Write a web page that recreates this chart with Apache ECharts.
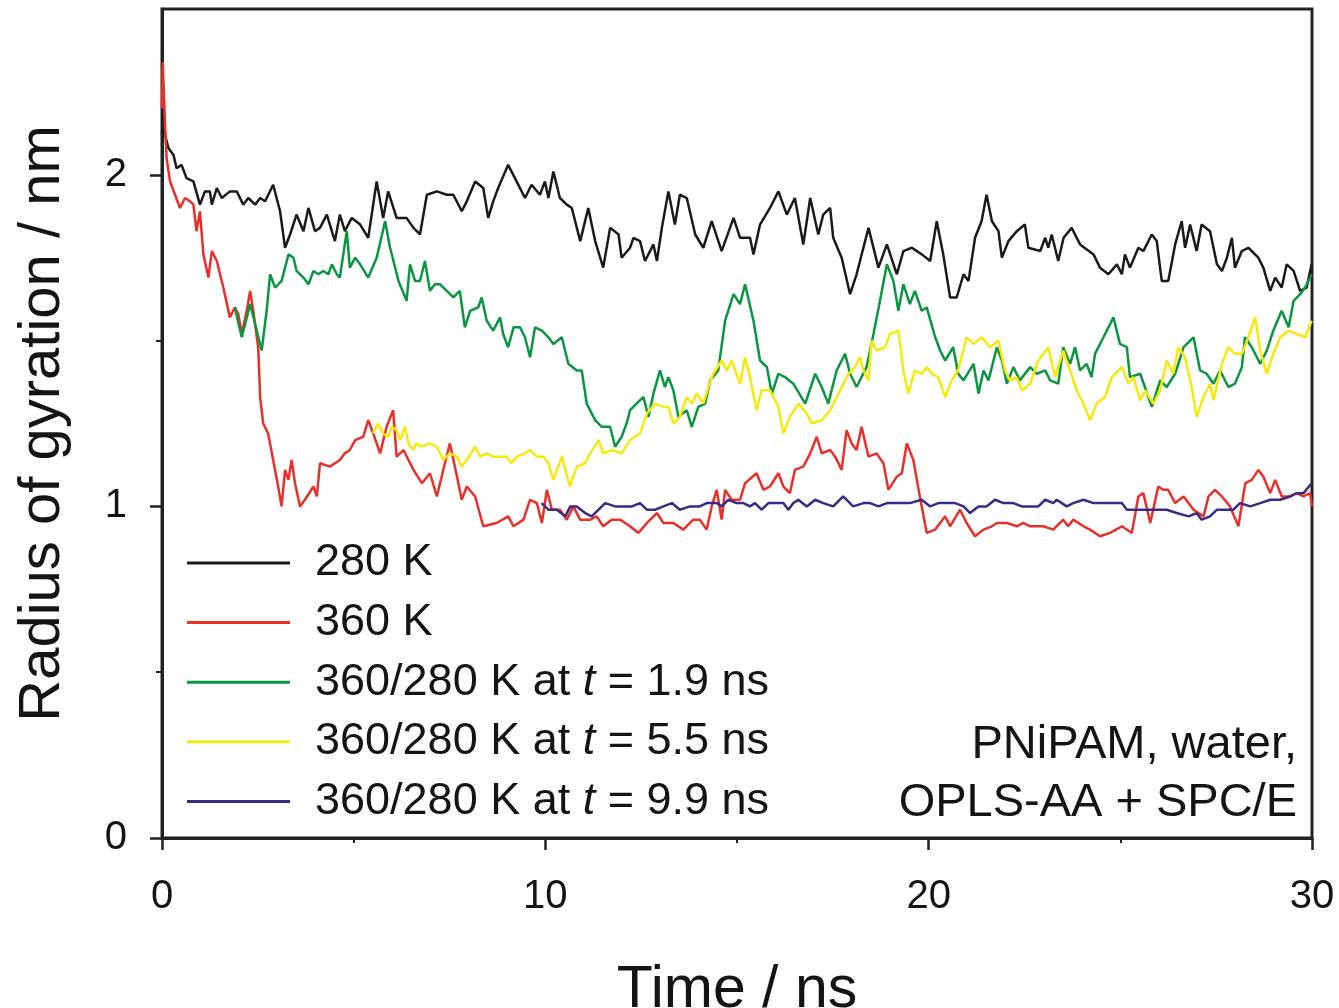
<!DOCTYPE html>
<html>
<head>
<meta charset="utf-8">
<script src="https://cdn.jsdelivr.net/npm/echarts@6/dist/echarts.min.js"></script>
<style>
  html, body { margin: 0; padding: 0; background: #fff; }
  #chartmain { width: 1339px; height: 1008px; }
</style>
</head>
<body>
<div id="chartmain"></div>
<script>
// tick positions
const xTicks = [0, 10, 20, 30];
const xMinorTicks = [5, 15, 25];
const yTicks = [0, 1, 2];
const yMinorTicks = [0.5, 1.5];

// legend names
const names = [
    '280 K',
    '360 K',
    '360/280 K at t = 1.9 ns',
    '360/280 K at t = 5.5 ns',
    '360/280 K at t = 9.9 ns'
];

// [time / ns, Rg / nm]
const rg280 = [
    [0, 2.12], [0.03, 2.22], [0.08, 2.12], [0.17, 2.08], [0.30, 2.06], [0.38, 2.02], [0.51, 2.03], [0.64, 1.99],
    [0.82, 1.98], [0.99, 1.91], [1.12, 1.95], [1.25, 1.95], [1.30, 1.91], [1.43, 1.96], [1.56, 1.93], [1.77, 1.95],
    [1.95, 1.95], [2.12, 1.91], [2.25, 1.93], [2.43, 1.91], [2.56, 1.93], [2.69, 1.92], [2.90, 1.97], [3.08, 1.89],
    [3.21, 1.78], [3.34, 1.82], [3.51, 1.88], [3.69, 1.83], [3.82, 1.90], [3.99, 1.83], [4.12, 1.84], [4.30, 1.88],
    [4.51, 1.80], [4.64, 1.88], [4.77, 1.83], [4.95, 1.87], [5.17, 1.85], [5.38, 1.81], [5.60, 1.98], [5.77, 1.87],
    [5.90, 1.95], [6.12, 1.87], [6.38, 1.87], [6.56, 1.84], [6.73, 1.82], [6.91, 1.94], [7.17, 1.95], [7.43, 1.94],
    [7.60, 1.94], [7.82, 1.89], [7.95, 1.92], [8.17, 1.98], [8.38, 1.96], [8.51, 1.87], [8.64, 1.92], [8.77, 1.96],
    [9.03, 2.03], [9.25, 1.98], [9.47, 1.93], [9.64, 1.97], [9.86, 1.94], [9.99, 1.98], [10.08, 1.93], [10.21, 2.01],
    [10.38, 1.93], [10.56, 1.91], [10.69, 1.90], [10.91, 1.80], [11.12, 1.90], [11.30, 1.80], [11.51, 1.72], [11.69, 1.84],
    [11.91, 1.82], [11.99, 1.75], [12.21, 1.78], [12.30, 1.81], [12.47, 1.80], [12.60, 1.74], [12.82, 1.79], [12.91, 1.74],
    [13.04, 1.84], [13.21, 1.95], [13.38, 1.85], [13.51, 1.94], [13.69, 1.93], [13.91, 1.82], [14.12, 1.78], [14.34, 1.86],
    [14.60, 1.77], [14.91, 1.87], [15.08, 1.81], [15.34, 1.81], [15.43, 1.76], [15.60, 1.85], [15.86, 1.90], [16.08, 1.95],
    [16.30, 1.88], [16.51, 1.93], [16.73, 1.79], [16.91, 1.93], [17.12, 1.82], [17.25, 1.88], [17.43, 1.90], [17.51, 1.81],
    [17.73, 1.75], [17.95, 1.64], [18.12, 1.70], [18.43, 1.84], [18.69, 1.72], [18.91, 1.79], [19.17, 1.70], [19.34, 1.77],
    [19.56, 1.78], [19.82, 1.76], [20.04, 1.74], [20.21, 1.86], [20.38, 1.76], [20.56, 1.63], [20.73, 1.63], [20.91, 1.70],
    [21.04, 1.68], [21.21, 1.81], [21.38, 1.86], [21.51, 1.94], [21.65, 1.86], [21.82, 1.83], [21.91, 1.75], [22.08, 1.80],
    [22.30, 1.83], [22.51, 1.85], [22.60, 1.78], [22.91, 1.77], [23.04, 1.81], [23.12, 1.78], [23.21, 1.82], [23.38, 1.74],
    [23.52, 1.81], [23.73, 1.84], [23.95, 1.79], [24.30, 1.76], [24.47, 1.72], [24.69, 1.70], [24.91, 1.73], [25.04, 1.70],
    [25.12, 1.76], [25.25, 1.72], [25.47, 1.78], [25.60, 1.77], [25.82, 1.82], [25.95, 1.80], [26.08, 1.68], [26.25, 1.68],
    [26.43, 1.79], [26.60, 1.86], [26.69, 1.78], [26.82, 1.85], [26.99, 1.77], [27.12, 1.85], [27.34, 1.83], [27.52, 1.73],
    [27.65, 1.71], [27.78, 1.75], [27.91, 1.81], [27.99, 1.72], [28.17, 1.77], [28.34, 1.78], [28.60, 1.75], [28.73, 1.72],
    [28.91, 1.65], [29.04, 1.69], [29.21, 1.66], [29.34, 1.73], [29.52, 1.71], [29.69, 1.65], [29.86, 1.66], [29.99, 1.73]
];

const rg360 = [
    [0, 2.20], [0.02, 2.34], [0.08, 2.15], [0.12, 2.05], [0.21, 1.98], [0.34, 1.94], [0.47, 1.90], [0.60, 1.93],
    [0.73, 1.92], [0.82, 1.91], [0.90, 1.83], [0.99, 1.89], [1.08, 1.76], [1.21, 1.69], [1.30, 1.77], [1.43, 1.74],
    [1.60, 1.66], [1.77, 1.57], [1.90, 1.60], [1.99, 1.58], [2.08, 1.52], [2.21, 1.59], [2.30, 1.65], [2.38, 1.59],
    [2.51, 1.48], [2.56, 1.33], [2.64, 1.25], [2.77, 1.22], [2.90, 1.14], [3.03, 1.06], [3.12, 1.00], [3.21, 1.11],
    [3.30, 1.08], [3.38, 1.14], [3.47, 1.07], [3.60, 1.00], [3.73, 1.02], [3.95, 1.06], [4.04, 1.03], [4.12, 1.13],
    [4.38, 1.12], [4.64, 1.14], [4.77, 1.16], [4.90, 1.17], [5.04, 1.20], [5.25, 1.21], [5.38, 1.26], [5.51, 1.22],
    [5.69, 1.16], [5.86, 1.24], [6.03, 1.29], [6.12, 1.15], [6.30, 1.17], [6.43, 1.14], [6.56, 1.11], [6.78, 1.07],
    [6.99, 1.10], [7.17, 1.03], [7.38, 1.13], [7.51, 1.19], [7.64, 1.12], [7.82, 1.02], [7.95, 1.06], [8.17, 1.03],
    [8.38, 0.94], [8.73, 0.95], [9.03, 0.97], [9.17, 0.94], [9.43, 0.96], [9.60, 1.02], [9.78, 1.01], [9.91, 0.95],
    [10.04, 1.05], [10.17, 0.99], [10.38, 0.99], [10.56, 0.96], [10.73, 1.00], [10.91, 0.96], [11.17, 0.96], [11.34, 0.97],
    [11.51, 0.94], [11.73, 0.96], [11.95, 0.96], [12.21, 0.94], [12.43, 0.92], [12.65, 0.95], [12.91, 0.98], [13.08, 0.95],
    [13.34, 0.95], [13.60, 0.93], [13.86, 0.96], [14.03, 0.96], [14.21, 0.93], [14.34, 1.00], [14.47, 1.05], [14.60, 0.96],
    [14.69, 1.05], [14.86, 1.02], [15.08, 1.02], [15.21, 1.07], [15.51, 1.10], [15.69, 1.05], [15.86, 1.06], [16.08, 1.10],
    [16.21, 1.06], [16.38, 1.04], [16.51, 1.11], [16.73, 1.12], [16.91, 1.16], [17.08, 1.21], [17.21, 1.16], [17.43, 1.17],
    [17.56, 1.15], [17.73, 1.11], [17.86, 1.23], [17.99, 1.19], [18.12, 1.17], [18.25, 1.24], [18.43, 1.15], [18.64, 1.16],
    [18.82, 1.13], [18.95, 1.05], [19.17, 1.09], [19.30, 1.10], [19.43, 1.19], [19.60, 1.14], [19.77, 1.03], [19.95, 0.92],
    [20.17, 0.93], [20.43, 0.97], [20.56, 0.94], [20.82, 0.99], [20.99, 0.95], [21.21, 0.91], [21.43, 0.93], [21.65, 0.94],
    [21.78, 0.95], [22.04, 0.95], [22.30, 0.94], [22.47, 0.95], [22.65, 0.94], [22.99, 0.94], [23.25, 0.93], [23.51, 0.96],
    [23.64, 0.94], [23.77, 0.96], [24.04, 0.94], [24.21, 0.93], [24.47, 0.91], [24.73, 0.92], [25.04, 0.94], [25.30, 0.92],
    [25.47, 1.03], [25.60, 1.04], [25.78, 0.95], [25.99, 1.06], [26.12, 1.05], [26.25, 1.05], [26.43, 1.01], [26.65, 1.03],
    [26.91, 0.99], [27.17, 0.97], [27.30, 1.03], [27.47, 1.05], [27.65, 1.03], [27.86, 1.00], [28.08, 0.94], [28.26, 1.07],
    [28.43, 1.08], [28.60, 1.11], [28.73, 1.09], [28.91, 1.04], [29.04, 1.08], [29.21, 1.03], [29.43, 1.03], [29.60, 1.04],
    [29.78, 1.03], [29.95, 1.04], [30.0, 1.00]
];

const rgQuench19 = [
    [1.90, 1.60], [2.08, 1.51], [2.30, 1.61], [2.60, 1.47], [2.73, 1.59], [2.82, 1.70], [2.95, 1.66], [3.12, 1.68],
    [3.30, 1.76], [3.43, 1.75], [3.51, 1.71], [3.69, 1.69], [3.82, 1.67], [3.95, 1.71], [4.08, 1.70], [4.21, 1.71],
    [4.34, 1.70], [4.43, 1.73], [4.56, 1.70], [4.64, 1.69], [4.82, 1.83], [4.90, 1.72], [5.04, 1.75], [5.17, 1.73],
    [5.38, 1.69], [5.60, 1.75], [5.82, 1.86], [5.95, 1.78], [6.17, 1.68], [6.38, 1.62], [6.47, 1.73], [6.60, 1.68],
    [6.73, 1.68], [6.86, 1.74], [6.99, 1.65], [7.12, 1.67], [7.25, 1.67], [7.43, 1.65], [7.60, 1.63], [7.77, 1.65],
    [7.90, 1.54], [8.04, 1.59], [8.25, 1.60], [8.34, 1.63], [8.47, 1.56], [8.64, 1.53], [8.82, 1.57], [8.90, 1.52],
    [9.03, 1.48], [9.17, 1.54], [9.34, 1.54], [9.47, 1.51], [9.60, 1.45], [9.73, 1.54], [9.91, 1.53], [10.08, 1.51],
    [10.21, 1.49], [10.43, 1.51], [10.60, 1.43], [10.82, 1.41], [10.95, 1.41], [11.08, 1.31], [11.30, 1.26], [11.47, 1.24],
    [11.69, 1.24], [11.82, 1.18], [11.99, 1.21], [12.12, 1.25], [12.21, 1.29], [12.38, 1.31], [12.56, 1.33], [12.69, 1.27],
    [12.82, 1.34], [12.99, 1.41], [13.12, 1.36], [13.21, 1.39], [13.34, 1.35], [13.47, 1.27], [13.69, 1.29], [13.82, 1.24],
    [13.99, 1.30], [14.17, 1.31], [14.30, 1.38], [14.51, 1.41], [14.69, 1.56], [14.91, 1.64], [15.08, 1.61], [15.21, 1.67],
    [15.43, 1.56], [15.60, 1.44], [15.78, 1.42], [15.91, 1.34], [16.08, 1.40], [16.25, 1.39], [16.47, 1.37], [16.78, 1.31],
    [17.04, 1.40], [17.21, 1.36], [17.38, 1.31], [17.60, 1.41], [17.82, 1.46], [17.95, 1.40], [18.12, 1.36], [18.38, 1.42],
    [18.56, 1.52], [18.73, 1.62], [18.91, 1.73], [19.08, 1.68], [19.21, 1.59], [19.34, 1.67], [19.51, 1.61], [19.64, 1.65],
    [19.82, 1.59], [19.95, 1.60], [20.17, 1.51], [20.30, 1.47], [20.43, 1.44], [20.64, 1.48], [20.77, 1.40], [20.91, 1.38],
    [21.17, 1.43], [21.30, 1.34], [21.43, 1.41], [21.56, 1.38], [21.78, 1.48], [21.91, 1.44], [22.04, 1.37], [22.21, 1.42],
    [22.38, 1.38], [22.65, 1.42], [22.82, 1.40], [23.04, 1.41], [23.17, 1.38], [23.38, 1.37], [23.51, 1.48], [23.69, 1.43],
    [23.82, 1.48], [23.95, 1.41], [24.12, 1.43], [24.25, 1.39], [24.34, 1.46], [24.56, 1.51], [24.82, 1.57], [24.99, 1.49],
    [25.17, 1.48], [25.25, 1.39], [25.52, 1.40], [25.82, 1.30], [26.04, 1.38], [26.21, 1.36], [26.43, 1.40], [26.65, 1.48],
    [26.91, 1.51], [27.08, 1.41], [27.25, 1.40], [27.43, 1.37], [27.60, 1.41], [27.82, 1.36], [27.99, 1.37], [28.17, 1.42],
    [28.25, 1.51], [28.43, 1.48], [28.65, 1.43], [28.82, 1.47], [28.99, 1.53], [29.21, 1.59], [29.39, 1.54], [29.52, 1.62],
    [29.69, 1.64], [29.82, 1.66], [29.99, 1.70]
];

const rgQuench55 = [
    [5.50, 1.22], [5.64, 1.25], [5.77, 1.22], [5.90, 1.21], [5.99, 1.24], [6.12, 1.23], [6.21, 1.20], [6.34, 1.24],
    [6.43, 1.19], [6.56, 1.17], [6.64, 1.19], [6.78, 1.18], [6.99, 1.19], [7.17, 1.18], [7.34, 1.14], [7.51, 1.16],
    [7.69, 1.15], [7.82, 1.12], [7.95, 1.14], [8.17, 1.18], [8.30, 1.15], [8.47, 1.16], [8.64, 1.15], [8.82, 1.15],
    [8.99, 1.15], [9.12, 1.13], [9.25, 1.15], [9.47, 1.16], [9.60, 1.17], [9.78, 1.15], [9.95, 1.15], [10.08, 1.13],
    [10.21, 1.08], [10.43, 1.15], [10.64, 1.06], [10.82, 1.12], [11.04, 1.13], [11.17, 1.16], [11.39, 1.20], [11.51, 1.16],
    [11.73, 1.17], [11.99, 1.16], [12.21, 1.20], [12.47, 1.22], [12.65, 1.28], [12.86, 1.31], [13.08, 1.30], [13.21, 1.30],
    [13.34, 1.25], [13.51, 1.27], [13.69, 1.33], [13.82, 1.31], [13.95, 1.34], [14.12, 1.31], [14.25, 1.36], [14.38, 1.40],
    [14.60, 1.44], [14.73, 1.41], [14.86, 1.44], [15.08, 1.37], [15.21, 1.45], [15.34, 1.39], [15.51, 1.29], [15.64, 1.35],
    [15.86, 1.35], [16.08, 1.30], [16.21, 1.22], [16.38, 1.27], [16.60, 1.31], [16.82, 1.28], [16.95, 1.25], [17.21, 1.26],
    [17.43, 1.29], [17.69, 1.35], [17.91, 1.40], [18.08, 1.42], [18.21, 1.45], [18.30, 1.41], [18.43, 1.38], [18.51, 1.50],
    [18.64, 1.47], [18.86, 1.48], [18.99, 1.52], [19.21, 1.53], [19.34, 1.41], [19.47, 1.34], [19.64, 1.41], [19.82, 1.40],
    [19.95, 1.42], [20.08, 1.40], [20.25, 1.39], [20.43, 1.33], [20.60, 1.38], [20.77, 1.41], [20.99, 1.51], [21.17, 1.49],
    [21.38, 1.51], [21.60, 1.48], [21.82, 1.50], [21.99, 1.41], [22.12, 1.38], [22.30, 1.39], [22.43, 1.35], [22.65, 1.37],
    [22.86, 1.44], [23.12, 1.48], [23.30, 1.39], [23.51, 1.47], [23.69, 1.41], [23.86, 1.35], [24.04, 1.31], [24.21, 1.26],
    [24.38, 1.31], [24.60, 1.33], [24.78, 1.39], [25.04, 1.42], [25.21, 1.37], [25.34, 1.39], [25.52, 1.32], [25.65, 1.35],
    [25.86, 1.31], [26.04, 1.35], [26.21, 1.44], [26.38, 1.40], [26.51, 1.48], [26.69, 1.45], [26.86, 1.36], [26.99, 1.27],
    [27.17, 1.33], [27.34, 1.37], [27.43, 1.32], [27.65, 1.43], [27.82, 1.48], [27.99, 1.46], [28.17, 1.46], [28.34, 1.51],
    [28.52, 1.57], [28.65, 1.47], [28.82, 1.40], [28.99, 1.46], [29.17, 1.51], [29.39, 1.53], [29.60, 1.52], [29.82, 1.51],
    [29.99, 1.56]
];

const rgQuench99 = [
    [9.90, 1.01], [10.08, 0.99], [10.30, 0.99], [10.52, 0.97], [10.65, 1.00], [10.82, 1.00], [11.04, 0.98], [11.21, 0.97],
    [11.39, 0.99], [11.56, 1.01], [11.82, 1.00], [12.04, 1.00], [12.26, 1.00], [12.47, 1.01], [12.65, 0.99], [12.86, 0.99],
    [13.08, 1.00], [13.30, 1.01], [13.51, 0.99], [13.77, 1.00], [14.03, 1.00], [14.21, 1.01], [14.47, 1.01], [14.60, 1.00],
    [14.77, 1.02], [14.99, 1.01], [15.17, 1.01], [15.34, 1.00], [15.47, 1.01], [15.64, 0.99], [15.82, 1.01], [16.04, 1.01],
    [16.21, 1.01], [16.34, 0.99], [16.47, 1.01], [16.60, 1.02], [16.82, 1.00], [17.04, 1.02], [17.25, 1.01], [17.51, 1.00],
    [17.77, 1.03], [18.03, 1.00], [18.30, 1.01], [18.47, 1.01], [18.69, 1.00], [18.91, 1.01], [19.08, 1.01], [19.25, 1.01],
    [19.51, 1.01], [19.82, 1.02], [20.04, 1.00], [20.25, 1.01], [20.43, 1.01], [20.69, 1.01], [20.91, 1.00], [21.08, 0.98],
    [21.30, 1.00], [21.51, 1.00], [21.73, 1.02], [21.95, 1.01], [22.21, 1.01], [22.43, 1.00], [22.65, 1.00], [22.86, 1.00],
    [23.04, 1.02], [23.25, 1.01], [23.34, 1.02], [23.60, 1.00], [23.77, 1.01], [24.04, 1.02], [24.30, 1.01], [24.56, 1.01],
    [24.82, 1.01], [25.04, 1.01], [25.17, 0.99], [25.43, 0.99], [25.69, 0.99], [25.95, 0.99], [26.21, 0.99], [26.47, 0.98],
    [26.78, 0.97], [26.99, 0.98], [27.12, 0.96], [27.34, 0.97], [27.52, 0.99], [27.78, 0.99], [27.95, 0.99], [28.12, 1.01],
    [28.39, 1.00], [28.65, 1.01], [28.91, 1.02], [29.17, 1.02], [29.43, 1.03], [29.60, 1.04], [29.78, 1.04], [29.99, 1.07]
];

const seriesData = [rg280, rg360, rgQuench19, rgQuench55, rgQuench99];
const colors = ['#1a1a1a', '#e8302a', '#0a9640', '#f7e90c', '#3a2a86'];

const FONT = '"Liberation Sans", Arial, sans-serif';
const INK = '#141414';

const chart = echarts.init(document.getElementById('chartmain'));

const option = {
    backgroundColor: '#fff',
    animation: false,
    grid: {
        left: 162, right: 27, top: 9, bottom: 170,
        outerBoundsMode: 'none',
        show: true,
        borderColor: '#222',
        borderWidth: 3
    },
    legend: {
        orient: 'vertical',
        left: 187,
        top: 538,
        padding: 0,
        icon: 'rect',
        itemWidth: 103,
        itemHeight: 3,
        itemGap: 9.6,
        data: names,
        formatter: function (n) { return n.replace(' t = ', ' {it|t} = '); },
        textStyle: {
            fontFamily: FONT, fontSize: 45, color: INK, lineHeight: 50,
            padding: [0, 0, 0, 20],
            rich: { it: { fontFamily: FONT, fontSize: 45, fontStyle: 'italic', color: INK } }
        }
    },
    xAxis: [{
        type: 'value', min: 0, max: 30,
        name: 'Time / ns', nameLocation: 'middle', nameGap: 123,
        nameTextStyle: { fontFamily: FONT, fontSize: 59, color: INK },
        axisLine: { onZero: false, lineStyle: { color: '#222', width: 3 } },
        axisTick: { customValues: xTicks, length: 12, lineStyle: { color: '#222', width: 2.5 } },
        axisLabel: { customValues: xTicks, margin: 39, fontFamily: FONT, fontSize: 40, color: INK },
        splitLine: { show: false }
    }, {
        type: 'value', min: 0, max: 30, position: 'bottom',
        axisLine: { show: false },
        axisTick: { customValues: xMinorTicks, length: 5, lineStyle: { color: '#222', width: 2 } },
        axisLabel: { show: false },
        splitLine: { show: false }
    }],
    yAxis: [{
        type: 'value', min: 0, max: 2.5,
        name: 'Radius of gyration / nm', nameLocation: 'middle', nameGap: 90,
        nameTextStyle: { fontFamily: FONT, fontSize: 58, color: INK },
        axisLine: { onZero: false, lineStyle: { color: '#222', width: 3 } },
        axisTick: { customValues: yTicks, length: 12, lineStyle: { color: '#222', width: 2.5 } },
        axisLabel: { customValues: yTicks, margin: 35, fontFamily: FONT, fontSize: 40, color: INK },
        splitLine: { show: false }
    }, {
        type: 'value', min: 0, max: 2.5, position: 'left',
        axisLine: { show: false },
        axisTick: { customValues: yMinorTicks, length: 6, lineStyle: { color: '#222', width: 2 } },
        axisLabel: { show: false },
        splitLine: { show: false }
    }],
    graphic: [{
        type: 'text',
        right: 42,
        top: 716,
        style: {
            text: 'PNiPAM, water,\nOPLS-AA + SPC/E',
            textAlign: 'right',
            fontFamily: FONT, fontSize: 47, lineHeight: 58, fill: INK
        }
    }],
    series: names.map(function (n, i) {
        return {
            name: n,
            type: 'line',
            data: seriesData[i],
            showSymbol: false,
            symbol: 'none',
            lineStyle: { color: colors[i], width: 2.5 },
            itemStyle: { color: colors[i] },
            z: 2 + i
        };
    })
};

chart.setOption(option);
window.addEventListener('resize', function () { chart.resize(); });
</script>
</body>
</html>
